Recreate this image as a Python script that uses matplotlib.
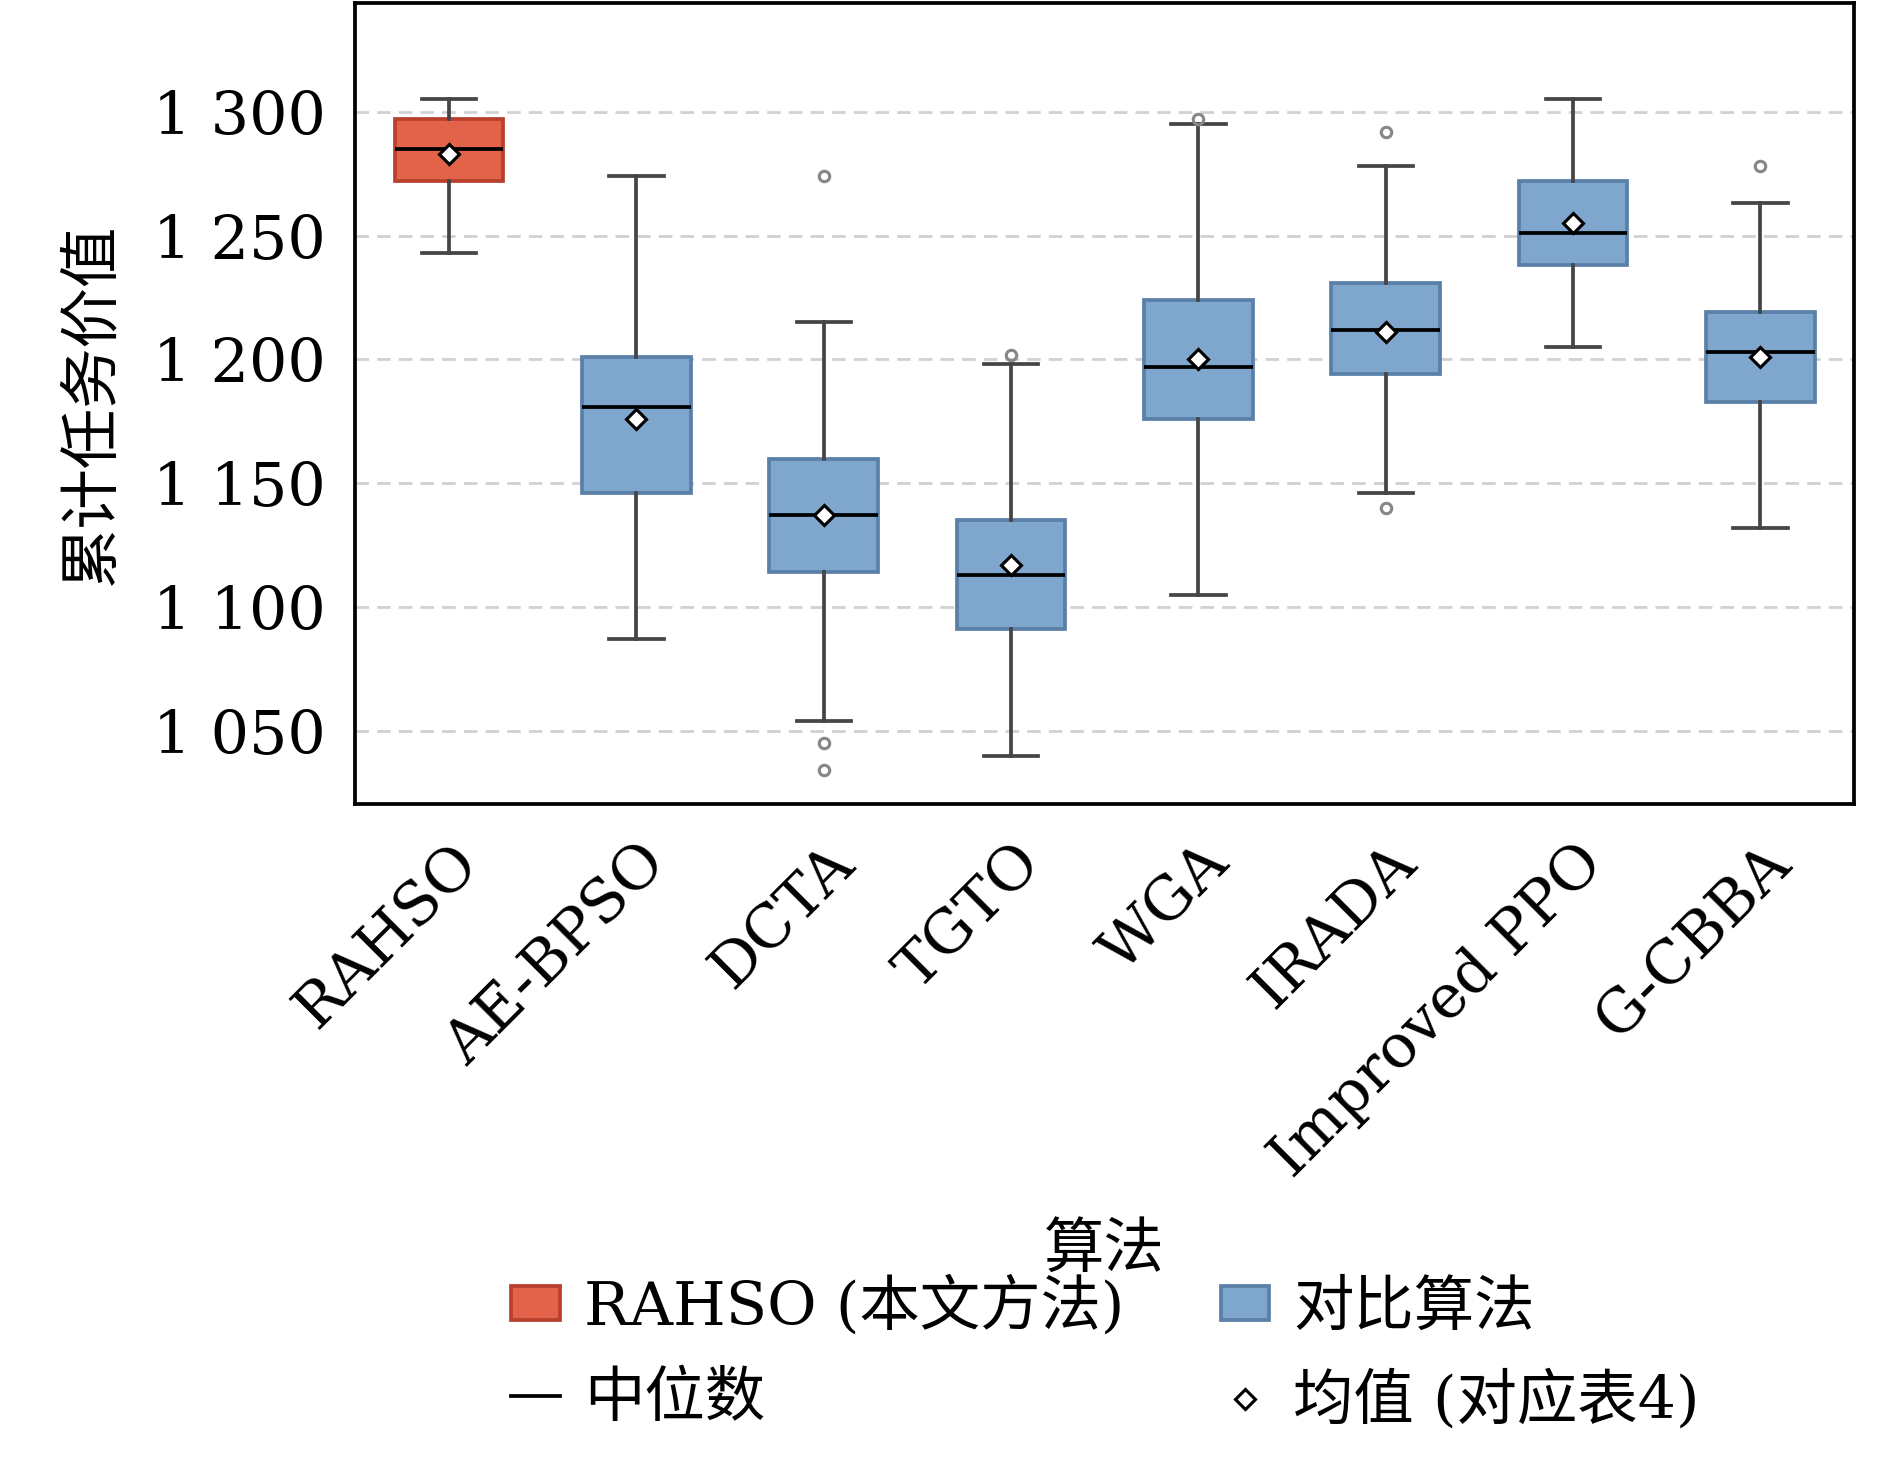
import matplotlib
matplotlib.use('Agg')
import matplotlib.pyplot as plt
from matplotlib.patches import Patch
from matplotlib.lines import Line2D
from matplotlib.ticker import FuncFormatter

plt.rcParams['font.family'] = ['DejaVu Serif', 'Noto Sans CJK SC']

algos = ['RAHSO', 'AE-BPSO', 'DCTA', 'TGTO', 'WGA', 'IRADA', 'Improved PPO', 'G-CBBA']
whis_lo = [1243, 1087, 1054, 1040, 1105, 1146, 1205, 1132]
q1 = [1272, 1146, 1114, 1091, 1176, 1194, 1238, 1183]
med = [1285, 1181, 1137, 1113, 1197, 1212, 1251, 1203]
q3 = [1297, 1201, 1160, 1135, 1224, 1231, 1272, 1219]
whis_hi = [1305, 1274, 1215, 1198, 1295, 1278, 1305, 1263]
means = [1283, 1176, 1137, 1117, 1200, 1211, 1255, 1201]
fliers = [[], [], [1274, 1045, 1034], [1202], [1297], [1292, 1140], [], [1278]]

stats = []
for i in range(len(algos)):
    stats.append(dict(whislo=whis_lo[i], q1=q1[i], med=med[i], q3=q3[i],
                      whishi=whis_hi[i], mean=means[i], fliers=fliers[i]))

fig = plt.figure(figsize=(12.6, 9.78), dpi=150)
ax = fig.add_axes([0.188, 0.452, 0.793, 0.546])

red_face, red_edge = '#E2634A', '#B8402C'
blue_face, blue_edge = '#7FA6CD', '#5B80A8'

bp = ax.bxp(stats, widths=0.58, showmeans=True, patch_artist=True,
            whiskerprops=dict(color='#454545', lw=1.8),
            capprops=dict(color='#454545', lw=1.8),
            medianprops=dict(color='black', lw=1.8),
            meanprops=dict(marker='D', markerfacecolor='white',
                           markeredgecolor='black', markersize=7, markeredgewidth=1.5),
            flierprops=dict(marker='o', markerfacecolor='none',
                            markeredgecolor='#888888', markersize=5, markeredgewidth=1.5))
for i, b in enumerate(bp['boxes']):
    if i == 0:
        b.set_facecolor(red_face); b.set_edgecolor(red_edge)
    else:
        b.set_facecolor(blue_face); b.set_edgecolor(blue_edge)
    b.set_linewidth(1.8)

ax.set_ylim(1020.5, 1344)
ax.set_yticks([1050, 1100, 1150, 1200, 1250, 1300])
ax.yaxis.set_major_formatter(FuncFormatter(lambda v, p: f'{int(v)//1000} {int(v)%1000:03d}'))
ax.yaxis.grid(True, linestyle=(0, (5, 3)), color='#d0d0d0', lw=1.3)
ax.set_axisbelow(True)
ax.tick_params(axis='y', labelsize=29, length=0, pad=14)
ax.tick_params(axis='x', labelsize=29, length=0, pad=14)
ax.set_xticklabels(algos, rotation=45, ha='right', rotation_mode='anchor')
for s in ax.spines.values():
    s.set_linewidth(1.8)
ax.set_ylabel('累计任务价值', fontsize=29, labelpad=16)
ax.set_xlabel('算法', fontsize=29, labelpad=16)

handles = [Patch(facecolor=red_face, edgecolor=red_edge, lw=1.8),
           Patch(facecolor=blue_face, edgecolor=blue_edge, lw=1.8),
           Line2D([], [], color='black', lw=1.8),
           Line2D([], [], ls='none', marker='D', markerfacecolor='white',
                  markeredgecolor='black', markersize=7, markeredgewidth=1.5)]
labels = ['RAHSO (本文方法)', '对比算法', '中位数', '均值 (对应表4)']
order = [0, 2, 1, 3]
fig.legend([handles[i] for i in order], [labels[i] for i in order],
           loc='lower center', bbox_to_anchor=(0.585, -0.012), ncol=2,
           frameon=False, fontsize=29, handlelength=0.8, handleheight=0.5,
           handletextpad=0.4, columnspacing=1.6, labelspacing=0.55)

fig.savefig('out.png', dpi=150, facecolor='white')
